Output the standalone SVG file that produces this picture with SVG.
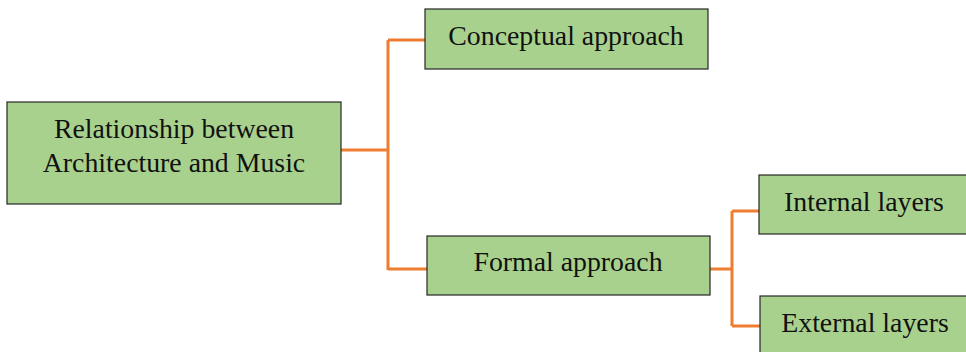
<svg xmlns="http://www.w3.org/2000/svg" width="966" height="352" viewBox="0 0 966 352">
<style>
.box{fill:#A9D18E;stroke:#262626;stroke-width:1.2}
.t{font-family:"Liberation Serif","Times New Roman",serif;font-size:27.8px;fill:#111;text-anchor:middle}
.c{fill:none;stroke:#ED7D31;stroke-width:3}
</style>
<rect width="966" height="352" fill="#fff"/>
<g id="connectors">
<path class="c" d="M341 150 H388 M388 40 V270 M388 40 H425 M388 269 H427"/>
<path class="c" d="M710 269 H732 M732 211 V326 M732 211 H759 M732 326 H760"/>
</g>
<g id="root">
<rect class="box" x="7" y="102" width="334" height="102"/>
<text class="t" x="174" y="138">Relationship between</text>
<text class="t" x="174" y="172">Architecture and Music</text>
</g>
<g id="conceptual">
<rect class="box" x="425" y="9" width="283" height="60"/>
<text class="t" x="566" y="45">Conceptual approach</text>
</g>
<g id="formal">
<rect class="box" x="427" y="236" width="283" height="59"/>
<text class="t" x="568" y="271">Formal approach</text>
</g>
<g id="internal">
<rect class="box" x="759" y="175" width="220" height="59"/>
<text class="t" x="864" y="211">Internal layers</text>
</g>
<g id="external">
<rect class="box" x="760" y="296" width="220" height="70"/>
<text class="t" x="865" y="332">External layers</text>
</g>
</svg>
